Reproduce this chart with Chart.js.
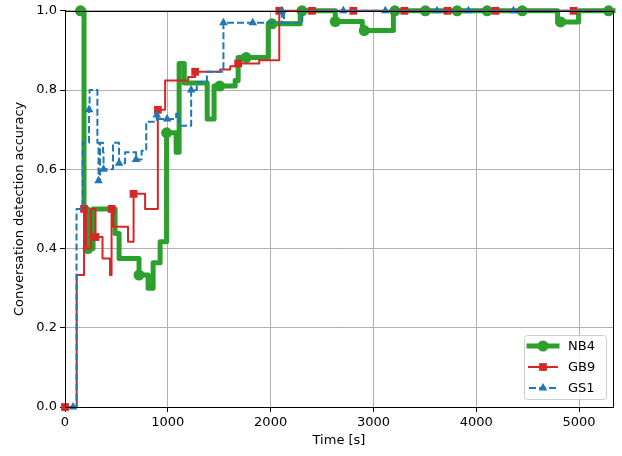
<!DOCTYPE html>
<html>
<head>
<meta charset="utf-8">
<script src="https://cdn.jsdelivr.net/npm/chart.js@4.4.0/dist/chart.umd.min.js"></script>
<style>
    html, body { margin: 0; padding: 0; background: #fff; }
</style>
</head>
<body>
<canvas id="grafico" width="622" height="456"></canvas>
<script>
// Nombres de las series y marcas del eje X
const nombres = ['NB4', 'GB9', 'GS1'];
const ticksTiempo = [0, 1000, 2000, 3000, 4000, 5000];

// NB4: tiempo [s], precisión y posiciones (índices) con marcador
const nb4Tiempo = [151, 185, 224, 273, 487, 526, 720, 808, 857, 925, 988, 1081, 1110, 1160, 1383, 1450, 1505, 1655, 1684, 1762, 1977, 2013, 2288, 2305, 2629, 2892, 2911, 3194, 3208, 3505, 3814, 4106, 4447, 4791, 4820, 4995, 5287, 5330];
const nb4Precision = [1.0, 0.5, 0.4, 0.5, 0.438, 0.375, 0.333, 0.3, 0.364, 0.417, 0.692, 0.643, 0.867, 0.818, 0.727, 0.81, 0.81, 0.824, 0.882, 0.882, 0.967, 0.967, 1.0, 1.0, 0.973, 0.95, 0.95, 1.0, 1.0, 1.0, 1.0, 1.0, 1.0, 0.972, 0.972, 1.0, 1.0, 1.0];
const nb4Marcas = [0, 2, 6, 10, 16, 19, 21, 23, 24, 26, 28, 29, 30, 31, 32, 34, 36];

// GB9
const gb9Tiempo = [0, 114, 185, 204, 253, 297, 365, 438, 453, 472, 613, 667, 779, 903, 974, 1198, 1266, 1509, 1607, 1684, 1889, 2084, 2402, 2804, 3301, 3720, 4187, 4946, 5330];
const gb9Precision = [0, 0.333, 0.5, 0.4, 0.5, 0.429, 0.375, 0.333, 0.5, 0.455, 0.417, 0.538, 0.5, 0.75, 0.824, 0.833, 0.846, 0.852, 0.86, 0.867, 0.875, 1.0, 1.0, 1.0, 1.0, 1.0, 1.0, 1.0, 1.0];
const gb9Marcas = [0, 2, 5, 8, 11, 13, 16, 19, 21, 22, 23, 24, 25, 26, 27];

// GS1
const gs1Tiempo = [78, 112, 172, 234, 239, 315, 326, 341, 370, 375, 467, 526, 584, 691, 745, 790, 893, 905, 993, 1081, 1110, 1227, 1282, 1380, 1541, 1826, 2110, 2130, 2308, 2707, 3116, 3619, 3924, 4362, 5330];
const gs1Precision = [0, 0.5, 0.667, 0.75, 0.8, 0.667, 0.571, 0.667, 0.643, 0.6, 0.667, 0.615, 0.643, 0.625, 0.647, 0.72, 0.737, 0.727, 0.727, 0.74, 0.71, 0.8, 0.82, 0.846, 0.97, 0.97, 1.0, 0.97, 1.0, 1.0, 1.0, 1.0, 1.0, 1.0, 1.0];
const gs1Marcas = [0, 3, 6, 9, 11, 13, 16, 18, 21, 24, 25, 26, 29, 30, 31, 32, 33];

const fuente = { family: 'DejaVu Sans', size: 13 };

function serie(tiempos, valores) {
    return tiempos.map((t, i) => ({ x: t, y: valores[i] }));
}

// Solo algunos puntos llevan marcador
function radioMarca(marcas, radio) {
    return ctx => marcas.includes(ctx.dataIndex) ? radio : 0;
}

function dibujarMarca(ctx, estilo, x, y, r) {
    ctx.beginPath();
    if (estilo === 'circle') {
        ctx.arc(x, y, r, 0, Math.PI * 2);
    } else if (estilo === 'rect') {
        const s = r * Math.SQRT1_2;
        ctx.rect(x - s, y - s, 2 * s, 2 * s);
    } else {
        ctx.moveTo(x, y - r);
        ctx.lineTo(x + r * 0.866, y + r / 2);
        ctx.lineTo(x - r * 0.866, y + r / 2);
        ctx.closePath();
    }
    ctx.fill();
}

// Marco completo alrededor del área del gráfico
const marco = {
    id: 'marco',
    afterDatasetsDraw(chart) {
        const { ctx, chartArea: a } = chart;
        ctx.save();
        ctx.strokeStyle = '#000';
        ctx.lineWidth = 1;
        ctx.strokeRect(Math.round(a.left) + 0.5, Math.round(a.top) + 0.5, Math.round(a.right - a.left), Math.round(a.bottom - a.top));
        ctx.restore();
    }
};

// Leyenda dentro del gráfico, abajo a la derecha
const leyenda = {
    id: 'leyenda',
    afterDraw(chart) {
        const { ctx, chartArea: a } = chart;
        const ancho = 82, alto = 64;
        const x0 = Math.round(a.right - 7 - ancho), y0 = Math.round(a.bottom - 8 - alto);
        ctx.save();
        ctx.beginPath();
        ctx.roundRect(x0 + 0.5, y0 + 0.5, ancho, alto, 3);
        ctx.fillStyle = 'rgba(255,255,255,0.8)';
        ctx.fill();
        ctx.strokeStyle = '#cccccc';
        ctx.lineWidth = 1;
        ctx.stroke();
        chart.data.datasets.forEach((ds, i) => {
            const y = y0 + 11 + i * 21;
            ctx.strokeStyle = ds.borderColor;
            ctx.lineWidth = ds.borderWidth;
            ctx.lineCap = ds.borderDash ? 'butt' : 'square';
            ctx.setLineDash(ds.borderDash || []);
            ctx.beginPath();
            ctx.moveTo(x0 + 5, y);
            ctx.lineTo(x0 + 33, y);
            ctx.stroke();
            ctx.setLineDash([]);
            ctx.fillStyle = ds.borderColor;
            dibujarMarca(ctx, ds.pointStyle, x0 + 19, y, ds.radioLeyenda);
            ctx.fillStyle = '#000';
            ctx.font = '13px "DejaVu Sans"';
            ctx.textBaseline = 'middle';
            ctx.fillText(ds.label, x0 + 44, y + 1);
        });
        ctx.restore();
    }
};

new Chart(document.getElementById('grafico'), {
    type: 'line',
    data: {
        datasets: [{
            label: nombres[0],
            data: serie(nb4Tiempo, nb4Precision),
            borderColor: '#2ca02c',
            backgroundColor: '#2ca02c',
            borderWidth: 5,
            stepped: 'before',
            pointStyle: 'circle',
            pointRadius: radioMarca(nb4Marcas, 5.5),
            radioLeyenda: 5.5,
            pointBorderWidth: 0,
            borderJoinStyle: 'round',
            borderCapStyle: 'square',
            clip: false,
            order: 3
        }, {
            label: nombres[1],
            data: serie(gb9Tiempo, gb9Precision),
            borderColor: '#d62728',
            backgroundColor: '#d62728',
            borderWidth: 2,
            stepped: 'before',
            pointStyle: 'rect',
            pointRadius: radioMarca(gb9Marcas, 5.5),
            radioLeyenda: 5.5,
            pointBorderWidth: 0,
            borderJoinStyle: 'round',
            clip: false,
            order: 2
        }, {
            label: nombres[2],
            data: serie(gs1Tiempo, gs1Precision),
            borderColor: '#1f77b4',
            backgroundColor: '#1f77b4',
            borderWidth: 2,
            borderDash: [7, 3],
            stepped: 'before',
            pointStyle: 'triangle',
            pointRadius: radioMarca(gs1Marcas, 5),
            radioLeyenda: 5,
            pointBorderWidth: 0,
            borderJoinStyle: 'round',
            clip: false,
            order: 1
        }]
    },
    options: {
        responsive: false,
        animation: false,
        layout: { padding: { left: 0, right: 9, top: 10, bottom: 0 } },
        plugins: {
            legend: { display: false },
            tooltip: { enabled: false }
        },
        scales: {
            x: {
                type: 'linear',
                min: 0,
                max: 5330,
                ticks: { maxRotation: 0, color: '#000', font: fuente, padding: 3, callback: v => String(v) },
                afterBuildTicks: escala => { escala.ticks = ticksTiempo.map(v => ({ value: v })); },
                grid: { color: '#b0b0b0', lineWidth: 1, tickColor: '#000', tickLength: 5 },
                border: { color: '#000', width: 1 },
                title: { display: true, text: 'Time [s]', color: '#000', font: fuente, padding: { top: 0, bottom: 8 } },
                afterFit: escala => { escala.height = 49; }
            },
            y: {
                min: 0,
                max: 1,
                ticks: { stepSize: 0.2, color: '#000', font: fuente, padding: 3, callback: v => v.toFixed(1) },
                grid: { color: '#b0b0b0', lineWidth: 1, tickColor: '#000', tickLength: 5 },
                border: { color: '#000', width: 1 },
                title: { display: true, text: 'Conversation detection accuracy', color: '#000', font: fuente, padding: { top: 12, bottom: 0 } },
                afterFit: escala => { escala.width = 65; }
            }
        }
    },
    plugins: [marco, leyenda]
});
</script>
</body>
</html>
